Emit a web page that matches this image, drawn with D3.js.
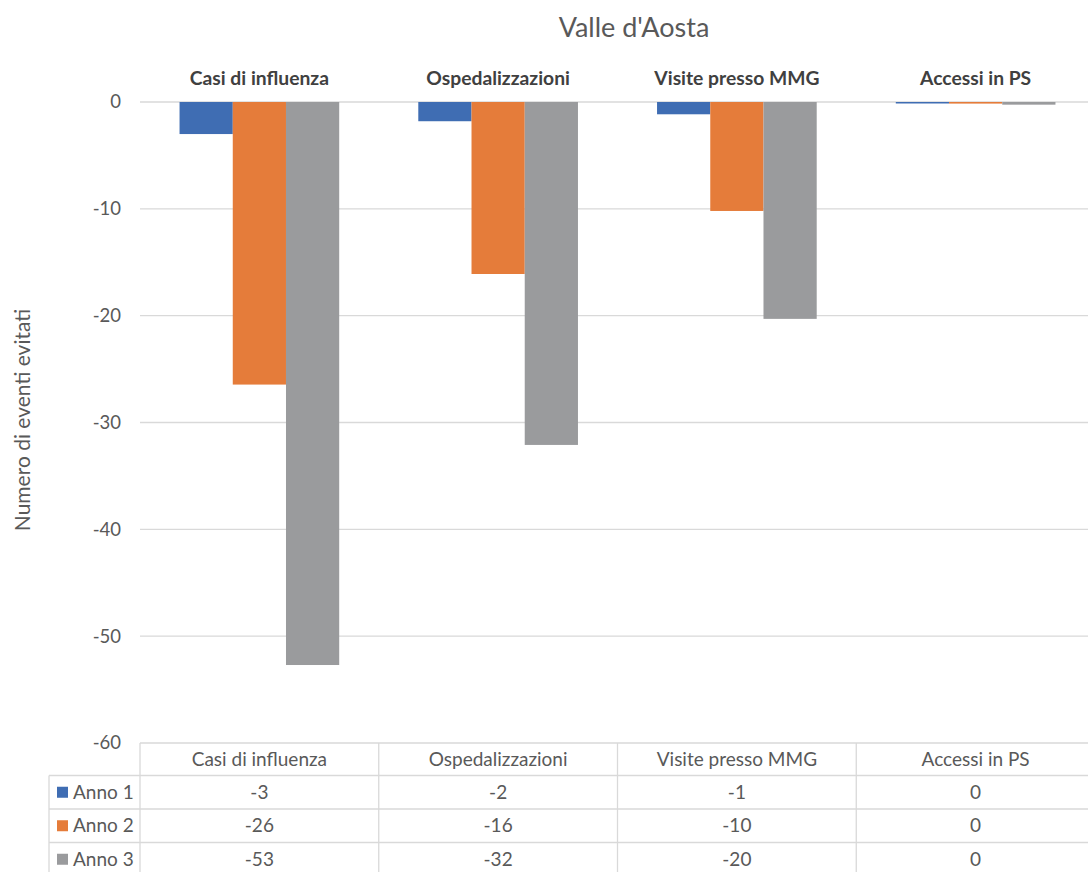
<!DOCTYPE html>
<html>
<head>
<meta charset="utf-8">
<script src="https://cdn.jsdelivr.net/npm/d3@7"></script>
<style>
  html, body { margin: 0; padding: 0; background: #ffffff; }
  svg { display: block; font-family: Lato, "Open Sans", sans-serif; }
</style>
</head>
<body>
<svg id="chart" width="1088" height="872"></svg>
<script>
// Categories, series names and the numbers of avoided events per year
const categories = ["Casi di influenza", "Ospedalizzazioni", "Visite presso MMG", "Accessi in PS"];
const seriesNames = ["Anno 1", "Anno 2", "Anno 3"];
const anno1 = [-3.0, -1.8, -1.15, 0.0];
const anno2 = [-26.45, -16.1, -10.2, -0.15];
const anno3 = [-52.7, -32.1, -20.3, -0.25];
const seriesColors = ["#3f6db3", "#e57c3a", "#9a9b9d"];
const yTicks = [0, -10, -20, -30, -40, -50, -60];
const titleText = "Valle d'Aosta";
const yTitle = "Numero di eventi evitati";

const seriesValues = [anno1, anno2, anno3];

const svg = d3.select("#chart");
const plot = { left: 140, right: 1095, top: 102, bottom: 743 };

const y = d3.scaleLinear().domain([0, -60]).range([plot.top, plot.bottom]);
const x0 = d3.scaleBand().domain(categories).range([plot.left, plot.right]).padding(0);
const x1 = d3.scaleBand().domain(seriesNames).range([0, x0.bandwidth()])
  .paddingInner(0).paddingOuter(0.743);

const grid = "#d9d9d9";
const textCol = "#595959";
const bodySize = 19;

// Title
svg.append("text")
  .attr("x", 634).attr("y", 37)
  .attr("text-anchor", "middle")
  .attr("font-size", 27)
  .attr("fill", textCol)
  .text(titleText);

// Horizontal gridlines
svg.append("g").selectAll("line")
  .data(yTicks)
  .join("line")
  .attr("x1", plot.left).attr("x2", plot.right)
  .attr("y1", d => y(d)).attr("y2", d => y(d))
  .attr("stroke", grid).attr("stroke-width", 1.3);

// Y axis tick labels
const yAxis = d3.axisLeft(y).tickValues(yTicks).tickSize(0).tickPadding(0)
  .tickFormat(d => String(d));
const gy = svg.append("g").attr("transform", `translate(121,0)`).call(yAxis);
gy.select(".domain").remove();
gy.selectAll("text")
  .attr("font-size", 18.5)
  .attr("fill", textCol)
  .attr("font-family", "Lato, sans-serif");

// Y axis title
svg.append("text")
  .attr("transform", "translate(30,420) rotate(-90)")
  .attr("text-anchor", "middle")
  .attr("font-size", 21)
  .attr("fill", textCol)
  .text(yTitle);

// Category labels along the top
svg.append("g").selectAll("text")
  .data(categories)
  .join("text")
  .attr("x", d => x0(d) + x0.bandwidth() / 2)
  .attr("y", 85)
  .attr("text-anchor", "middle")
  .attr("font-size", 19.3)
  .attr("font-weight", "bold")
  .attr("fill", "#404040")
  .text(d => d);

// Bars
const groups = svg.append("g").selectAll("g")
  .data(categories)
  .join("g")
  .attr("transform", d => `translate(${x0(d)},0)`);

groups.selectAll("rect")
  .data((c, ci) => seriesNames.map((s, si) => ({ s, si, v: seriesValues[si][ci] })))
  .join("rect")
  .attr("x", d => x1(d.s))
  .attr("width", x1.bandwidth())
  .attr("y", d => Math.min(y(0), y(d.v)))
  .attr("height", d => Math.max(1.5, Math.abs(y(d.v) - y(0))))
  .attr("fill", d => seriesColors[d.si]);

// Data table under the plot
const rowTop = plot.bottom;
const headerH = 32.5;
const rowH = 33.5;
const legendLeft = 49;
const table = svg.append("g");

// Header cells text
table.selectAll("text.hdr")
  .data(categories)
  .join("text")
  .attr("class", "hdr")
  .attr("x", d => x0(d) + x0.bandwidth() / 2)
  .attr("y", rowTop + headerH / 2 + 6.5)
  .attr("text-anchor", "middle")
  .attr("font-size", bodySize)
  .attr("fill", textCol)
  .text(d => d);

// Data rows
seriesNames.forEach((s, si) => {
  const top = rowTop + headerH + si * rowH;
  const cy = top + rowH / 2;
  table.append("rect")
    .attr("x", 57).attr("y", cy - 5.5)
    .attr("width", 11).attr("height", 11)
    .attr("fill", seriesColors[si]);
  table.append("text")
    .attr("x", 73).attr("y", cy + 6.5)
    .attr("font-size", bodySize)
    .attr("fill", textCol)
    .text(s);
  table.selectAll(null)
    .data(categories)
    .join("text")
    .attr("x", d => x0(d) + x0.bandwidth() / 2)
    .attr("y", cy + 6.5)
    .attr("text-anchor", "middle")
    .attr("font-size", bodySize)
    .attr("fill", textCol)
    .text((d, ci) => String(Math.round(seriesValues[si][ci]) || 0));
});

// Table borders
const tableBottom = rowTop + headerH + seriesNames.length * rowH;
const hLines = [rowTop + headerH].concat(seriesNames.map((s, i) => rowTop + headerH + (i + 1) * rowH));
table.selectAll("line.h")
  .data(hLines)
  .join("line")
  .attr("x1", legendLeft).attr("x2", plot.right)
  .attr("y1", d => d).attr("y2", d => d)
  .attr("stroke", grid).attr("stroke-width", 1.3);
// vertical column separators
const vLines = categories.map(c => x0(c)).concat([plot.right]);
table.selectAll("line.v")
  .data(vLines)
  .join("line")
  .attr("x1", d => d).attr("x2", d => d)
  .attr("y1", rowTop).attr("y2", tableBottom)
  .attr("stroke", grid).attr("stroke-width", 1.3);
table.append("line")
  .attr("x1", legendLeft).attr("x2", legendLeft)
  .attr("y1", rowTop + headerH).attr("y2", tableBottom)
  .attr("stroke", grid).attr("stroke-width", 1.3);
</script>
</body>
</html>
